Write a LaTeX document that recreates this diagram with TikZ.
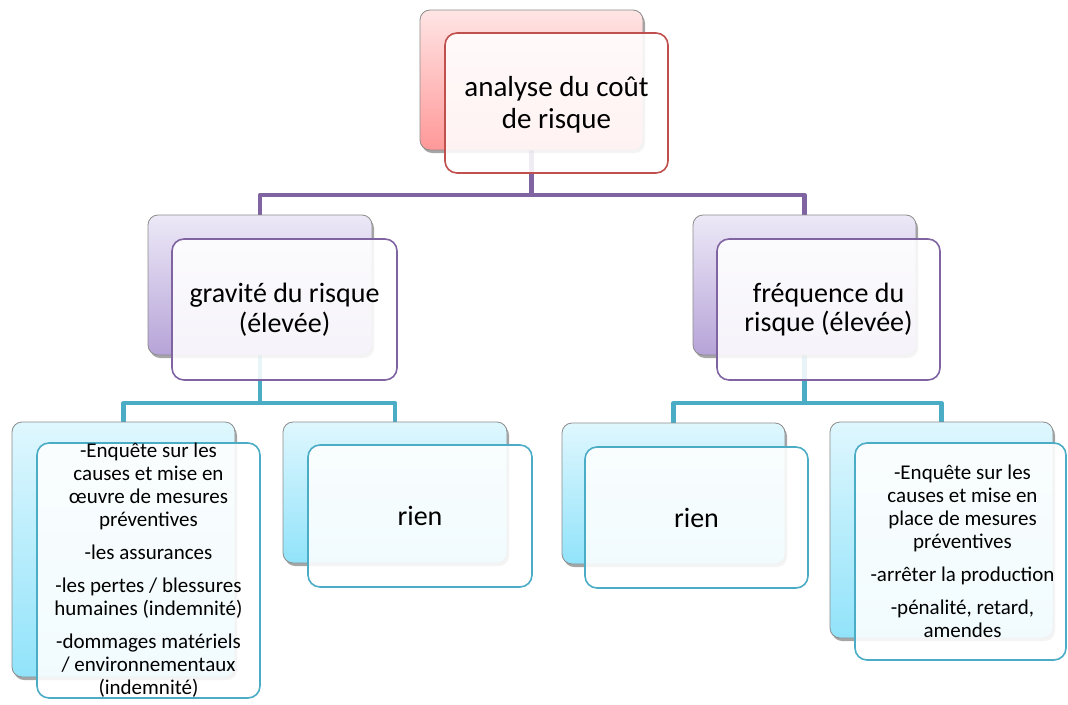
\documentclass[tikz,border=0pt]{standalone}
\usepackage{fontspec}
\setmainfont{Carlito}
\usetikzlibrary{shadows,backgrounds}

\definecolor{redTop}{RGB}{255,229,229}
\definecolor{redBot}{RGB}{255,152,152}
\definecolor{redLine}{RGB}{192,80,77}
\definecolor{purTop}{RGB}{237,233,247}
\definecolor{purBot}{RGB}{182,163,216}
\definecolor{purLine}{RGB}{128,100,162}
\definecolor{bluTop}{RGB}{223,247,254}
\definecolor{bluBot}{RGB}{145,227,250}
\definecolor{bluLine}{RGB}{75,172,198}

\tikzset{
  backbox/.style={rectangle, rounded corners=10pt, draw=black!45, line width=0.8pt,
    inner sep=0pt, minimum width=223pt, minimum height=140pt,
    drop shadow={shadow xshift=2pt, shadow yshift=-3pt, opacity=0.35, fill=black}},
  frontbox/.style={rectangle, rounded corners=12pt, line width=1.6pt, fill=white,
    fill opacity=0.88, inner sep=0pt, minimum width=223pt, minimum height=140pt},
  redback/.style={backbox, top color=redTop, bottom color=redBot},
  purback/.style={backbox, top color=purTop, bottom color=purBot},
  bluback/.style={backbox, top color=bluTop, bottom color=bluBot},
  redfront/.style={frontbox, draw=redLine},
  purfront/.style={frontbox, draw=purLine},
  blufront/.style={frontbox, draw=bluLine},
  label/.style={align=center, inner sep=0pt, text=black},
  bigtext/.style={label, font=\fontsize{29}{32}\selectfont},
  midtext/.style={label, font=\fontsize{28}{29.5}\selectfont},
  smalltext/.style={label, font=\fontsize{21}{23}\selectfont},
  pconn/.style={draw=purLine, line width=4.5pt, line join=round},
  bconn/.style={draw=bluLine, line width=4.2pt, line join=round},
}

\begin{document}
\begin{tikzpicture}[x=1pt, y=-1pt]
\useasboundingbox (0,0) rectangle (1068,704);

% back cards
\node[redback] (tb) at (531.5,80) {};
\node[purback, minimum width=224pt] (lb) at (260,285) {};
\node[purback] (rb) at (804.5,285) {};
\node[bluback, minimum height=255pt] (llb) at (123.5,549.5) {};
\node[bluback, minimum width=224pt, minimum height=141pt] (lrb) at (395,492.5) {};
\node[bluback, minimum height=141pt] (rlb) at (673.5,493.5) {};
\node[bluback, minimum height=216pt] (rrb) at (941.5,530) {};

% front cards
\node[redfront] (tf) at (556.5,103) {};
\node[purfront, minimum width=225pt, minimum height=141pt] (lf) at (284.5,309.5) {};
\node[purfront, minimum height=141pt] (rf) at (828.5,309.5) {};
\node[blufront, minimum height=255pt] (llf) at (148.5,570.5) {};
\node[blufront, minimum width=224pt, minimum height=142pt] (lrf) at (420,516) {};
\node[blufront, minimum height=141pt] (rlf) at (696.5,517.5) {};
\node[blufront, minimum width=211pt, minimum height=217pt] (rrf) at (960.5,551.5) {};

% texts
\node[bigtext] (tt) at ([yshift=-1.5pt]tf.center) {analyse du coût\\de risque};
\node[midtext] (lt) at (lf.center) {gravité du risque\\(élevée)};
\node[midtext] (rt) at (rf.center) {fréquence du\\risque (élevée)};
\node[smalltext] (llt) at (llf.center) {-Enquête sur les\\causes et mise en\\œuvre de mesures\\préventives\\[10pt]-les assurances\\[10pt]-les pertes / blessures\\humaines (indemnité)\\[10pt]-dommages matériels\\/ environnementaux\\(indemnité)};
\node[midtext] (lrt) at (lrf.center) {rien};
\node[midtext] (rlt) at (rlf.center) {rien};
\node[smalltext] (rrt) at ([xshift=2pt]rrf.center) {-Enquête sur les\\causes et mise en\\place de mesures\\préventives\\[10pt]-arrêter la production\\[10pt]-pénalité, retard,\\amendes};

% junction points of the tree
\coordinate (pj) at (531.5,195);
\coordinate (lj) at (260,403);
\coordinate (rj) at (804.5,403);

\begin{pgfonlayer}{background}
  \draw[pconn] (tb.south) -- (pj) -| (lb.north);
  \draw[pconn] (pj) -| (rb.north);
  \draw[bconn] (lb.south) -- (lj) -| (llb.north);
  \draw[bconn] (lj) -| (lrb.north);
  \draw[bconn] (rb.south) -- (rj) -| (rlb.north);
  \draw[bconn] (rj) -| (rrb.north);
\end{pgfonlayer}
\end{tikzpicture}
\end{document}
